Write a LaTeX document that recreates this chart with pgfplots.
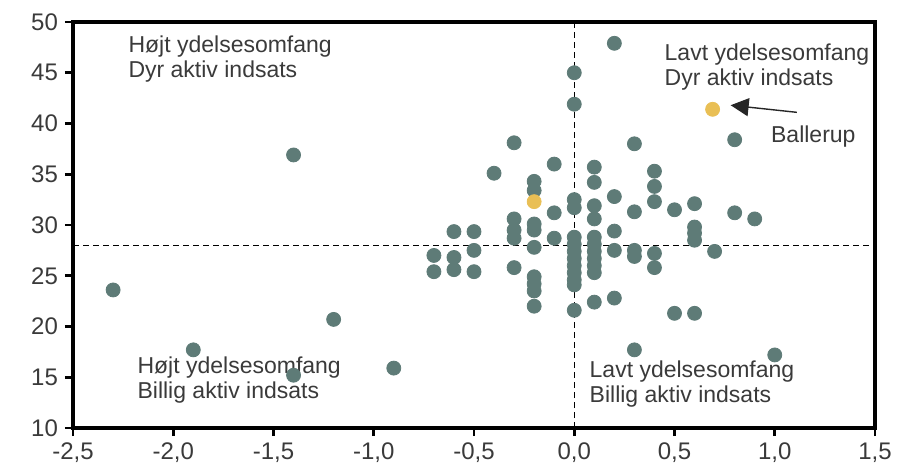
\documentclass[border=0pt]{standalone}
\usepackage{fontspec}
\setmainfont{Liberation Sans}
\usepackage{pgfplots}
\pgfplotsset{compat=1.18}
\usetikzlibrary{arrows.meta}
\definecolor{DotGrey}{HTML}{5E7B77}
\definecolor{DotGold}{HTML}{E9BF55}
\definecolor{TxtGrey}{HTML}{3A3A3A}

\begin{document}
\begin{tikzpicture}
\begin{axis}[
  scale only axis,
  width=401pt, height=203pt,
  xmin=-2.5, xmax=1.5, ymin=10, ymax=50,
  xtick={-2.5,-2,...,1.5},
  ytick={10,15,...,50},
  tick align=outside,
  xtick pos=bottom, ytick pos=left,
  major tick length=4pt,
  axis line style={line width=1.7pt},
  tick style={line width=1.3pt, black},
  x tick label style={/pgf/number format/fixed, /pgf/number format/fixed zerofill,
    /pgf/number format/precision=1, /pgf/number format/use comma},
  y tick label style={/pgf/number format/fixed, /pgf/number format/precision=0},
  /pgf/number format/assume math mode=true,
  tick label style={font=\fontsize{12}{14}\selectfont, text=TxtGrey},
  clip=false,
]
% kommuner
\addplot[only marks, mark=*, mark size=3.5pt, color=DotGrey] coordinates {
  (-2.3,23.6) (-1.9,17.7) (-1.4,36.9) (-1.4,15.2) (-1.2,20.7) (-0.9,15.9)
  (-0.7,27.0) (-0.7,25.4)
  (-0.6,29.35) (-0.6,26.8) (-0.6,25.6)
  (-0.5,29.35) (-0.5,27.5) (-0.5,25.4)
  (-0.4,35.1)
  (-0.3,38.1) (-0.3,30.6) (-0.3,29.5) (-0.3,28.7) (-0.3,25.8)
  (-0.2,34.3) (-0.2,33.4) (-0.2,30.1) (-0.2,29.5) (-0.2,27.8) (-0.2,24.9) (-0.2,24.2) (-0.2,23.5) (-0.2,22.0)
  (-0.1,36.0) (-0.1,31.2) (-0.1,28.7)
  (0,45.0) (0,41.9) (0,32.5) (0,31.7) (0,28.8) (0,28.1) (0,27.4) (0,26.7) (0,26.0) (0,25.3) (0,24.6) (0,24.1) (0,21.6)
  (0.1,35.7) (0.1,34.2) (0.1,31.9) (0.1,30.6) (0.1,28.8) (0.1,28.1) (0.1,27.4) (0.1,26.7) (0.1,26.0) (0.1,25.3) (0.1,22.4)
  (0.2,47.9) (0.2,32.8) (0.2,29.4) (0.2,27.5) (0.2,22.8)
  (0.3,38.0) (0.3,31.3) (0.3,27.5) (0.3,26.9) (0.3,17.7)
  (0.4,35.3) (0.4,33.8) (0.4,32.3) (0.4,27.2) (0.4,25.8)
  (0.5,31.5) (0.5,21.3)
  (0.6,32.1) (0.6,29.8) (0.6,29.2) (0.6,28.5) (0.6,21.3)
  (0.7,27.4)
  (0.8,38.4) (0.8,31.2)
  (0.9,30.6)
  (1.0,17.2)
};
% fremhaevede
\addplot[only marks, mark=*, mark size=3.5pt, color=DotGold] coordinates {
  (-0.2,32.3) (0.69,41.4)
};
% gennemsnit
\addplot[black, line width=0.6pt, dash pattern=on 3pt off 2pt] coordinates {(0,10) (0,50)};
\addplot[black, line width=0.6pt, dash pattern=on 3pt off 2pt] coordinates {(-2.5,28) (1.5,28)};

\begin{scope}[every node/.style={font=\fontsize{11.5}{12.8}\selectfont, text=TxtGrey, align=left, inner sep=0pt}]
\node[anchor=north west] at (axis cs:-2.225,48.7) {Højt ydelsesomfang\\Dyr aktiv indsats};
\node[anchor=north west] at (axis cs:0.449,47.9) {Lavt ydelsesomfang\\Dyr aktiv indsats};
\node[anchor=north west] at (axis cs:-2.18,17.1) {Højt ydelsesomfang\\Billig aktiv indsats};
\node[anchor=north west] at (axis cs:0.075,16.7) {Lavt ydelsesomfang\\Billig aktiv indsats};
\node[anchor=west] at (axis cs:0.98,38.7) {Ballerup};
\end{scope}
\draw[-{Triangle[length=9pt,width=9pt]}, line width=0.7pt, black!85]
  (axis cs:1.11,41.1) -- (axis cs:0.78,41.8);
\coordinate (bl) at (rel axis cs:0,0);
\coordinate (tr) at (rel axis cs:1,1);
\end{axis}
\path ([xshift=-36.5pt, yshift=-23.5pt]bl) rectangle ([xshift=18.5pt, yshift=11pt]tr);
\end{tikzpicture}
\end{document}
